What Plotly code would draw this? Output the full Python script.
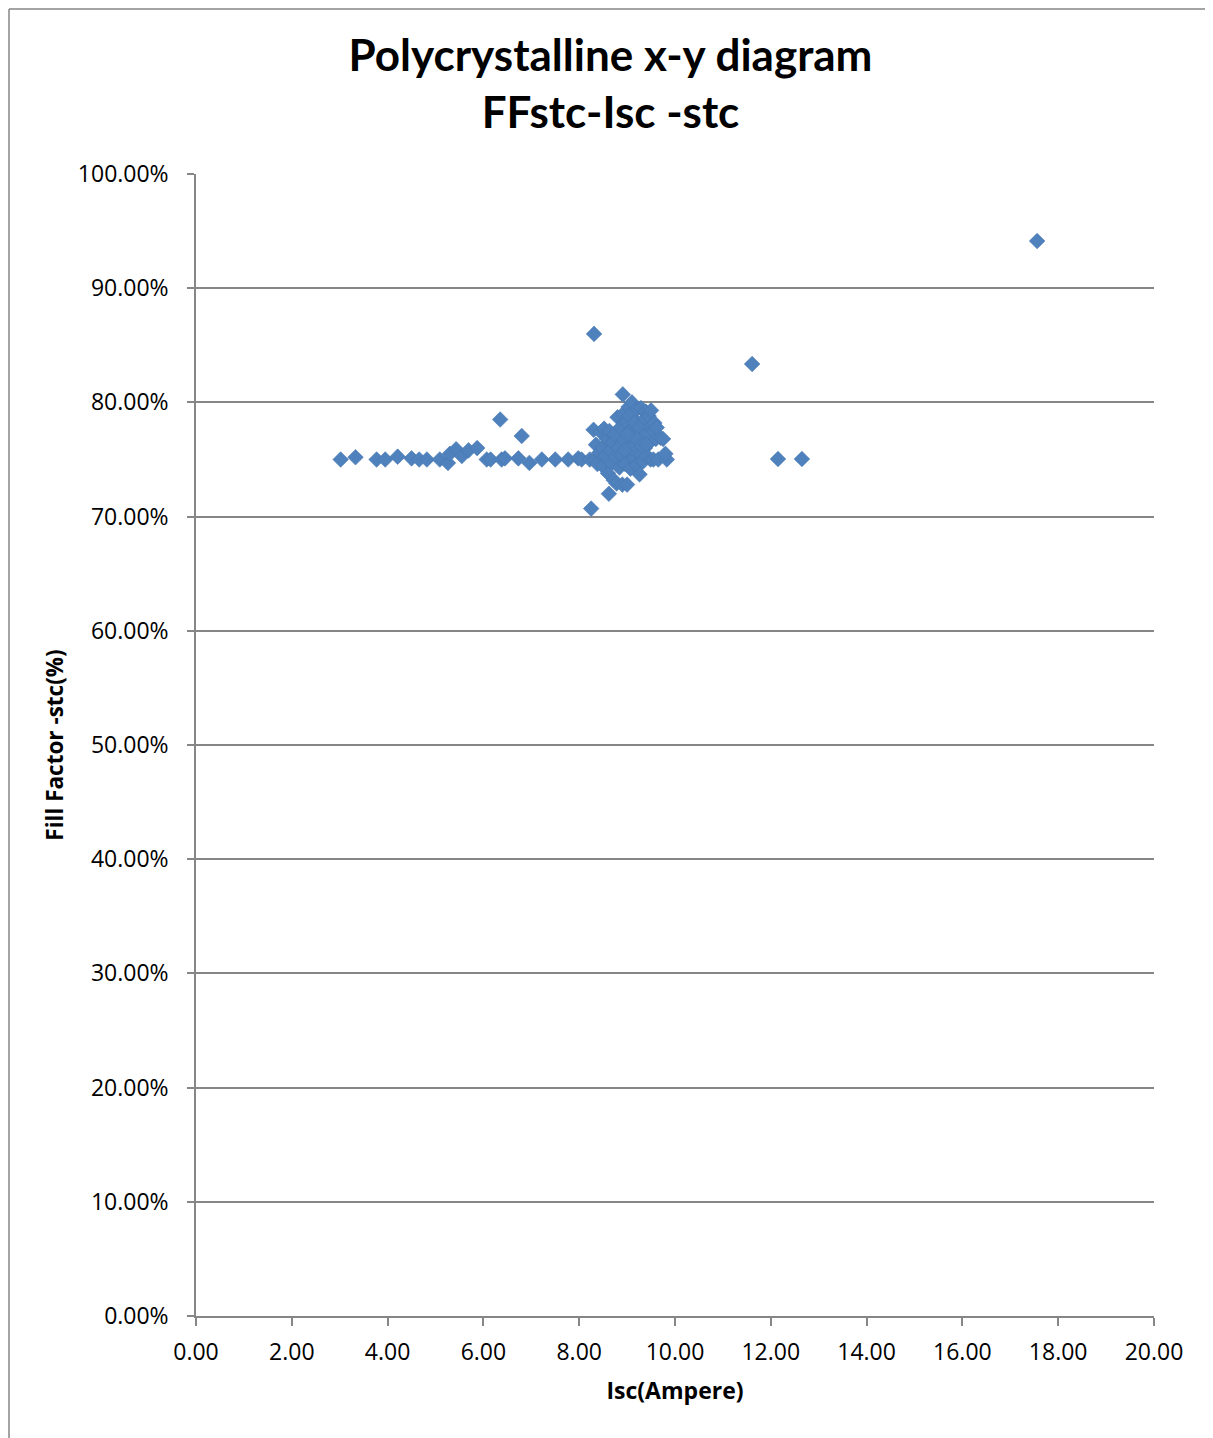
import plotly.graph_objects as go

# Isc (A) and fill factor (%)
isc_line = [3.02, 3.33, 3.77, 3.95, 4.21, 4.50, 4.66, 4.82, 5.09, 5.26, 5.30, 5.43, 5.55, 5.69, 5.87,
            6.07, 6.15, 6.35, 6.38, 6.45, 6.73, 6.80, 6.96, 7.22, 7.50, 7.77, 7.98, 8.05, 8.22]
ff_line = [75.0, 75.2, 75.0, 75.0, 75.25, 75.1, 75.0, 75.0, 75.0, 74.7, 75.5, 75.9, 75.3, 75.8, 76.0,
           75.0, 75.0, 78.5, 75.0, 75.1, 75.1, 77.06, 74.7, 75.0, 75.0, 75.0, 75.1, 75.0, 75.0]

isc_cluster = [8.25, 8.31, 8.30, 8.35, 8.33, 8.38, 8.42, 8.45, 8.48, 8.50, 8.52, 8.55, 8.58, 8.60, 8.62,
               8.63, 8.65, 8.68, 8.70, 8.72, 8.74, 8.76, 8.78, 8.80, 8.82, 8.84, 8.86, 8.88, 8.90, 8.91,
               8.92, 8.94, 8.96, 8.98, 9.00, 9.01, 9.03, 9.05, 9.07, 9.09, 9.10, 9.12, 9.14, 9.16, 9.18,
               9.20, 9.22, 9.24, 9.26, 9.27, 9.29, 9.31, 9.33, 9.35, 9.37, 9.39, 9.41, 9.43, 9.45, 9.47,
               9.49, 9.50, 9.52, 9.55, 9.57, 9.60, 9.62, 9.65, 9.70, 9.75, 9.83, 9.80,
               9.05, 9.15, 9.25, 9.35, 9.10, 9.20, 9.30, 9.00, 8.95, 9.40]
ff_cluster = [70.7, 86.0, 77.6, 76.3, 75.0, 74.6, 75.6, 77.4, 76.0, 74.4, 77.7, 75.3, 76.8, 73.8, 72.0,
              77.5, 75.8, 74.7, 76.5, 73.2, 77.2, 75.2, 72.9, 78.7, 76.0, 74.3, 77.8, 75.4, 72.8, 80.7,
              79.0, 76.7, 74.6, 78.3, 72.8, 75.7, 79.6, 77.4, 74.2, 76.2, 80.0, 78.6, 75.1, 77.0, 79.3,
              74.5, 76.5, 78.0, 73.7, 75.5, 79.5, 77.2, 74.8, 78.5, 76.0, 79.2, 75.3, 77.6, 78.8, 76.5,
              75.0, 79.3, 77.3, 75.0, 78.2, 76.8, 77.8, 75.0, 76.9, 76.8, 75.0, 75.5,
              78.8, 78.2, 77.8, 77.0, 76.0, 76.8, 76.2, 77.2, 75.8, 76.3]

isc_far = [11.61, 12.15, 12.65, 17.56]
ff_far = [83.36, 75.04, 75.04, 94.13]

isc = isc_line + isc_cluster + isc_far
ff = [v / 100 for v in ff_line + ff_cluster + ff_far]

x_ticks = [0, 2, 4, 6, 8, 10, 12, 14, 16, 18, 20]
y_ticks = [i / 10 for i in range(11)]

fig = go.Figure()
fig.add_trace(go.Scatter(
    x=isc, y=ff, mode="markers",
    marker=dict(symbol="diamond", size=12, color="#4F81BD",
                line=dict(width=0.6, color="#4677B0")),
    showlegend=False,
))

OFF = 8  # page body margin
W, H = 1205, 1430
L, R, T, B = 196 - OFF, 1154 - OFF, 174 - OFF, 1316 - OFF
pw, ph = R - L, B - T

def px(xp):
    return (xp - L) / pw

def py(yp):
    return (B - yp) / ph

fig.update_layout(
    width=W, height=H,
    margin=dict(l=L, r=W - R, t=T, b=H - B),
    paper_bgcolor="white", plot_bgcolor="white",
    font=dict(family="Open Sans", color="black"),
    title=dict(
        text="<b>Polycrystalline x-y diagram</b><br><b>FFstc-Isc -stc</b>",
        x=0.5, xanchor="center", xref="container",
        y=1 - 63 / H, yanchor="middle", yref="container",
        font=dict(family="Lato", size=44, color="black"),
    ),
    xaxis=dict(
        range=[0, 20], tickvals=x_ticks, tickformat=".2f",
        showgrid=False, zeroline=False,
        showline=True, linecolor="#868686", linewidth=2,
        ticks="outside", ticklen=8, tickcolor="#868686", tickwidth=1.5,
        ticklabelstandoff=6,
        tickfont=dict(size=23, family="Open Sans"),
        title=dict(text="<b>Isc(Ampere)</b>", font=dict(size=23, family="Open Sans"), standoff=17),
    ),
    yaxis=dict(
        range=[0, 1], tickvals=y_ticks, tickformat=".2%",
        showgrid=True, gridcolor="#868686", gridwidth=2,
        zeroline=False,
        showline=True, linecolor="#868686", linewidth=1.5,
        ticks="outside", ticklen=7, tickcolor="#868686", tickwidth=1.5,
        ticklabelstandoff=14,
        tickfont=dict(size=23, family="Open Sans"),
        title=dict(text="<b>Fill Factor -stc(%)</b>", font=dict(size=22.5, family="Open Sans"), standoff=8),
    ),
    shapes=[
        dict(type="line", xref="paper", yref="paper", x0=px(1), x1=px(1), y0=py(1), y1=py(H),
             line=dict(color="#868686", width=1.5)),
        dict(type="line", xref="paper", yref="paper", x0=px(1), x1=px(W), y0=py(1), y1=py(1),
             line=dict(color="#868686", width=1.5)),
    ],
)

fig.write_html("out.html")
